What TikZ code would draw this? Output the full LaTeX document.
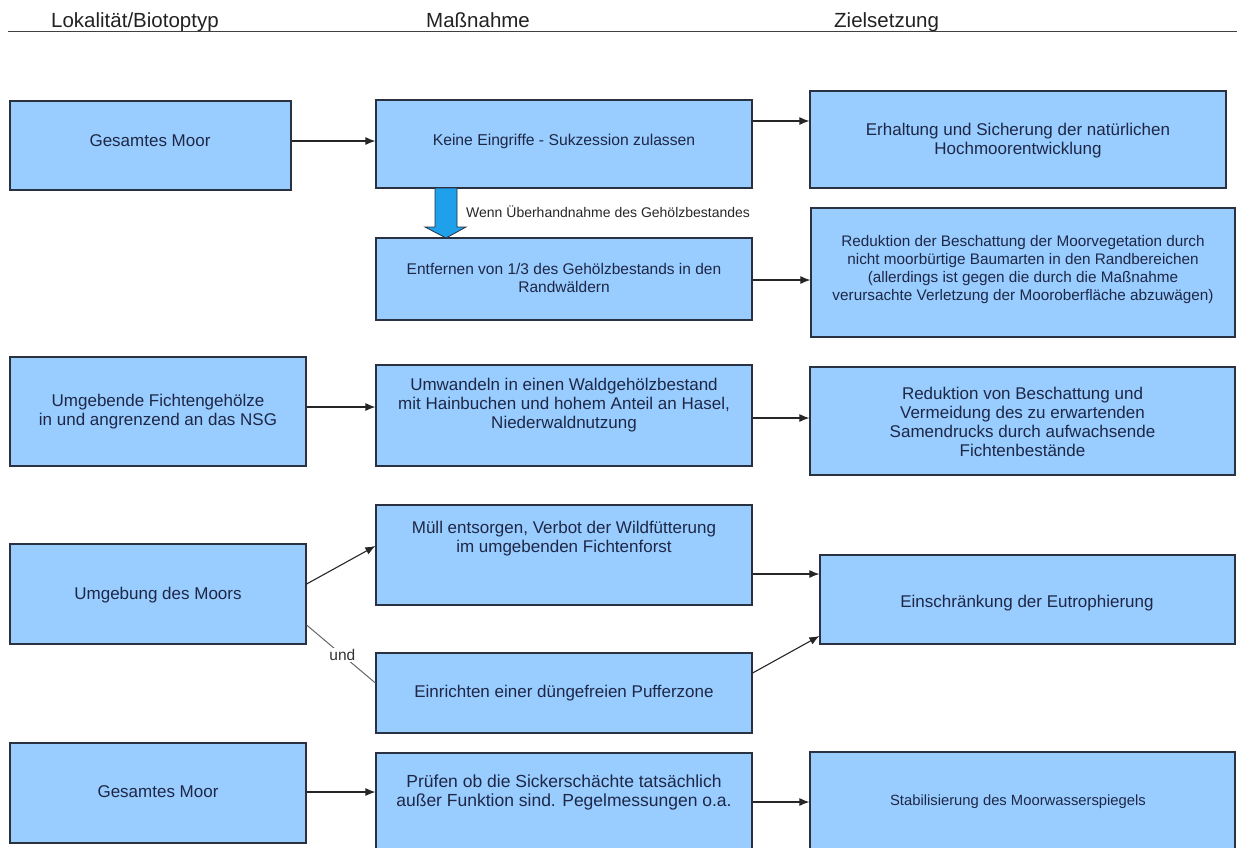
\documentclass[tikz,border=0pt]{standalone}
\usepackage{fontspec}
\setmainfont{Liberation Sans}
\usetikzlibrary{arrows.meta,calc}
\definecolor{boxfill}{HTML}{99CCFF}
\definecolor{boxline}{HTML}{2A3140}
\definecolor{boxtext}{HTML}{1E2846}
\definecolor{bigarrow}{HTML}{1EA0EA}
\definecolor{headtext}{HTML}{222222}
\begin{document}
\begin{tikzpicture}[x=1pt,y=-1pt,
  box/.style={draw=boxline, line width=1.2pt, fill=boxfill, inner sep=0pt},
  txt/.style={text=boxtext, align=center, font=\fontsize{17}{19}\selectfont, inner sep=0pt},
  txtsmall/.style={txt, font=\fontsize{15.5}{18.4}\selectfont},
  head/.style={text=headtext, font=\fontsize{20.5}{24}\selectfont, inner sep=0pt, anchor=base west},
  arr/.style={draw=black!85, line width=1.1pt, -{Latex[length=10pt,width=8pt]}},
  undline/.style={draw=black!60, line width=1pt},
  undlbl/.style={fill=white, text=black!80, font=\fontsize{15.5}{17}\selectfont, inner sep=1pt}
]
\clip (0,0) rectangle (1237,847);
\useasboundingbox (0,0) rectangle (1237,847);

% header
\node[head] (h1) at (51,27) {Lokalität/Biotoptyp};
\node[head] (h2) at (426,27) {Maßnahme};
\node[head] (h3) at (834,27) {Zielsetzung};
\coordinate (hl) at (8,31.5);
\coordinate (hr) at (1237,31.5);
\draw[draw=black!75, line width=1.4pt] (hl) -- (hr);

% boxes
\node[box, minimum width=281pt, minimum height=89pt] (b1) at (150.5,145.5) {};
\node[box, minimum width=376pt, minimum height=88pt] (m1) at (564,144) {};
\node[box, minimum width=416pt, minimum height=97pt] (z1) at (1018,139.5) {};
\node[box, minimum width=376pt, minimum height=82pt] (m2) at (564,279) {};
\node[box, minimum width=424pt, minimum height=129pt] (z2) at (1023,272.5) {};
\node[box, minimum width=296pt, minimum height=109pt] (b2) at (158,411.5) {};
\node[box, minimum width=376pt, minimum height=101pt] (m3) at (564,415.5) {};
\node[box, minimum width=425pt, minimum height=108pt] (z3) at (1022.5,421) {};
\node[box, minimum width=296pt, minimum height=100pt] (b3) at (158,594) {};
\node[box, minimum width=376pt, minimum height=100pt] (m4) at (564,555) {};
\node[box, minimum width=376pt, minimum height=80pt] (m5) at (564,693) {};
\node[box, minimum width=415pt, minimum height=89pt] (z4) at (1027.5,599.5) {};
\node[box, minimum width=296pt, minimum height=100pt] (b4) at (158,793) {};
\node[box, minimum width=376pt, minimum height=107pt] (m6) at (564,806.5) {};
\node[box, minimum width=425pt, minimum height=108pt] (z5) at (1022.5,806) {};

% texts
\node[txt] (b1t) at (150,141) {Gesamtes Moor};
\node[txt, font=\fontsize{15.7}{18.5}\selectfont] (m1t) at (564,141) {Keine Eingriffe - Sukzession zulassen};
\node[txt] (z1t) at (1018,140.5) {Erhaltung und Sicherung der natürlichen\\Hochmoorentwicklung};
\node[txtsmall] (m2t) at (564,278) {Entfernen von 1/3 des Gehölzbestands in den\\Randwäldern};
\node[txt, font=\fontsize{15.3}{18.3}\selectfont] (z2t) at (1023,269.5) {Reduktion der Beschattung der Moorvegetation durch\\nicht moorbürtige Baumarten in den Randbereichen\\(allerdings ist gegen die durch die Maßnahme\\verursachte Verletzung der Mooroberfläche abzuwägen)};
\node[txt] (b2t) at (158,412) {Umgebende Fichtengehölze\\in und angrenzend an das NSG};
\node[txt] (m3t) at (564,405) {Umwandeln in einen Waldgehölzbestand\\mit Hainbuchen und hohem Anteil an Hasel,\\Niederwaldnutzung};
\node[txt] (z3t) at (1022.5,422) {Reduktion von Beschattung und\\Vermeidung des zu erwartenden\\Samendrucks durch aufwachsende\\Fichtenbestände};
\node[txt] (b3t) at (158,595) {Umgebung des Moors};
\node[txt] (m4t) at (564,539) {Müll entsorgen, Verbot der Wildfütterung\\im umgebenden Fichtenforst};
\node[txt] (m5t) at (564,693) {Einrichten einer düngefreien Pufferzone};
\node[txt] (z4t) at (1027,603) {Einschränkung der Eutrophierung};
\node[txt] (b4t) at (158,792) {Gesamtes Moor};
\node[txt, font=\fontsize{17.5}{19}\selectfont] (m6t) at (564,792) {Prüfen ob die Sickerschächte tatsächlich\\außer Funktion sind. Pegelmessungen o.a.};
\node[txt, font=\fontsize{14.8}{18}\selectfont] (z5t) at (1018,802) {Stabilisierung des Moorwasserspiegels};

% big blue arrow between m1 and m2
\filldraw[fill=bigarrow, draw=boxline, line width=0.8pt]
  (435,188) -- (457,188) -- (457,227) -- (466,227) -- (446,238) -- (425,227) -- (435,227) -- cycle;
\node[txt, anchor=west, font=\fontsize{14}{16}\selectfont, text=black!85] (wenn) at (466,212) {Wenn Überhandnahme des Gehölzbestandes};

% connectors
\draw[arr] ([yshift=4.5pt]b1.east) -- ([yshift=4.5pt]b1.east -| m1.west);
\draw[arr] ([yshift=23pt]m1.east) -- ([yshift=23pt]m1.east -| z1.west);
\draw[arr] ([yshift=-1pt]m2.east) -- ([yshift=-1pt]m2.east -| z2.west);
\draw[arr] ([yshift=4.5pt]b2.east) -- ([yshift=4.5pt]b2.east -| m3.west);
\draw[arr] ([yshift=-2.5pt]m3.east) -- ([yshift=-2.5pt]m3.east -| z3.west);
\draw[arr] ([yshift=10pt]b3.east) -- ([yshift=9pt]m4.west);
\draw[undline] ([yshift=-31pt]b3.east) -- node[undlbl, pos=0.52] (und) {und} ([yshift=10pt]m5.west);
\draw[arr] ([yshift=-19pt]m4.east) -- ([yshift=-19pt]m4.east -| z4.west);
\draw[arr] ([yshift=20pt]m5.east) -- ([yshift=-36.5pt]z4.west);
\draw[arr] ([yshift=1pt]b4.east) -- ([yshift=1pt]b4.east -| m6.west);
\draw[arr] ([yshift=4.5pt]m6.east) -- ([yshift=4.5pt]m6.east -| z5.west);
\end{tikzpicture}
\end{document}
